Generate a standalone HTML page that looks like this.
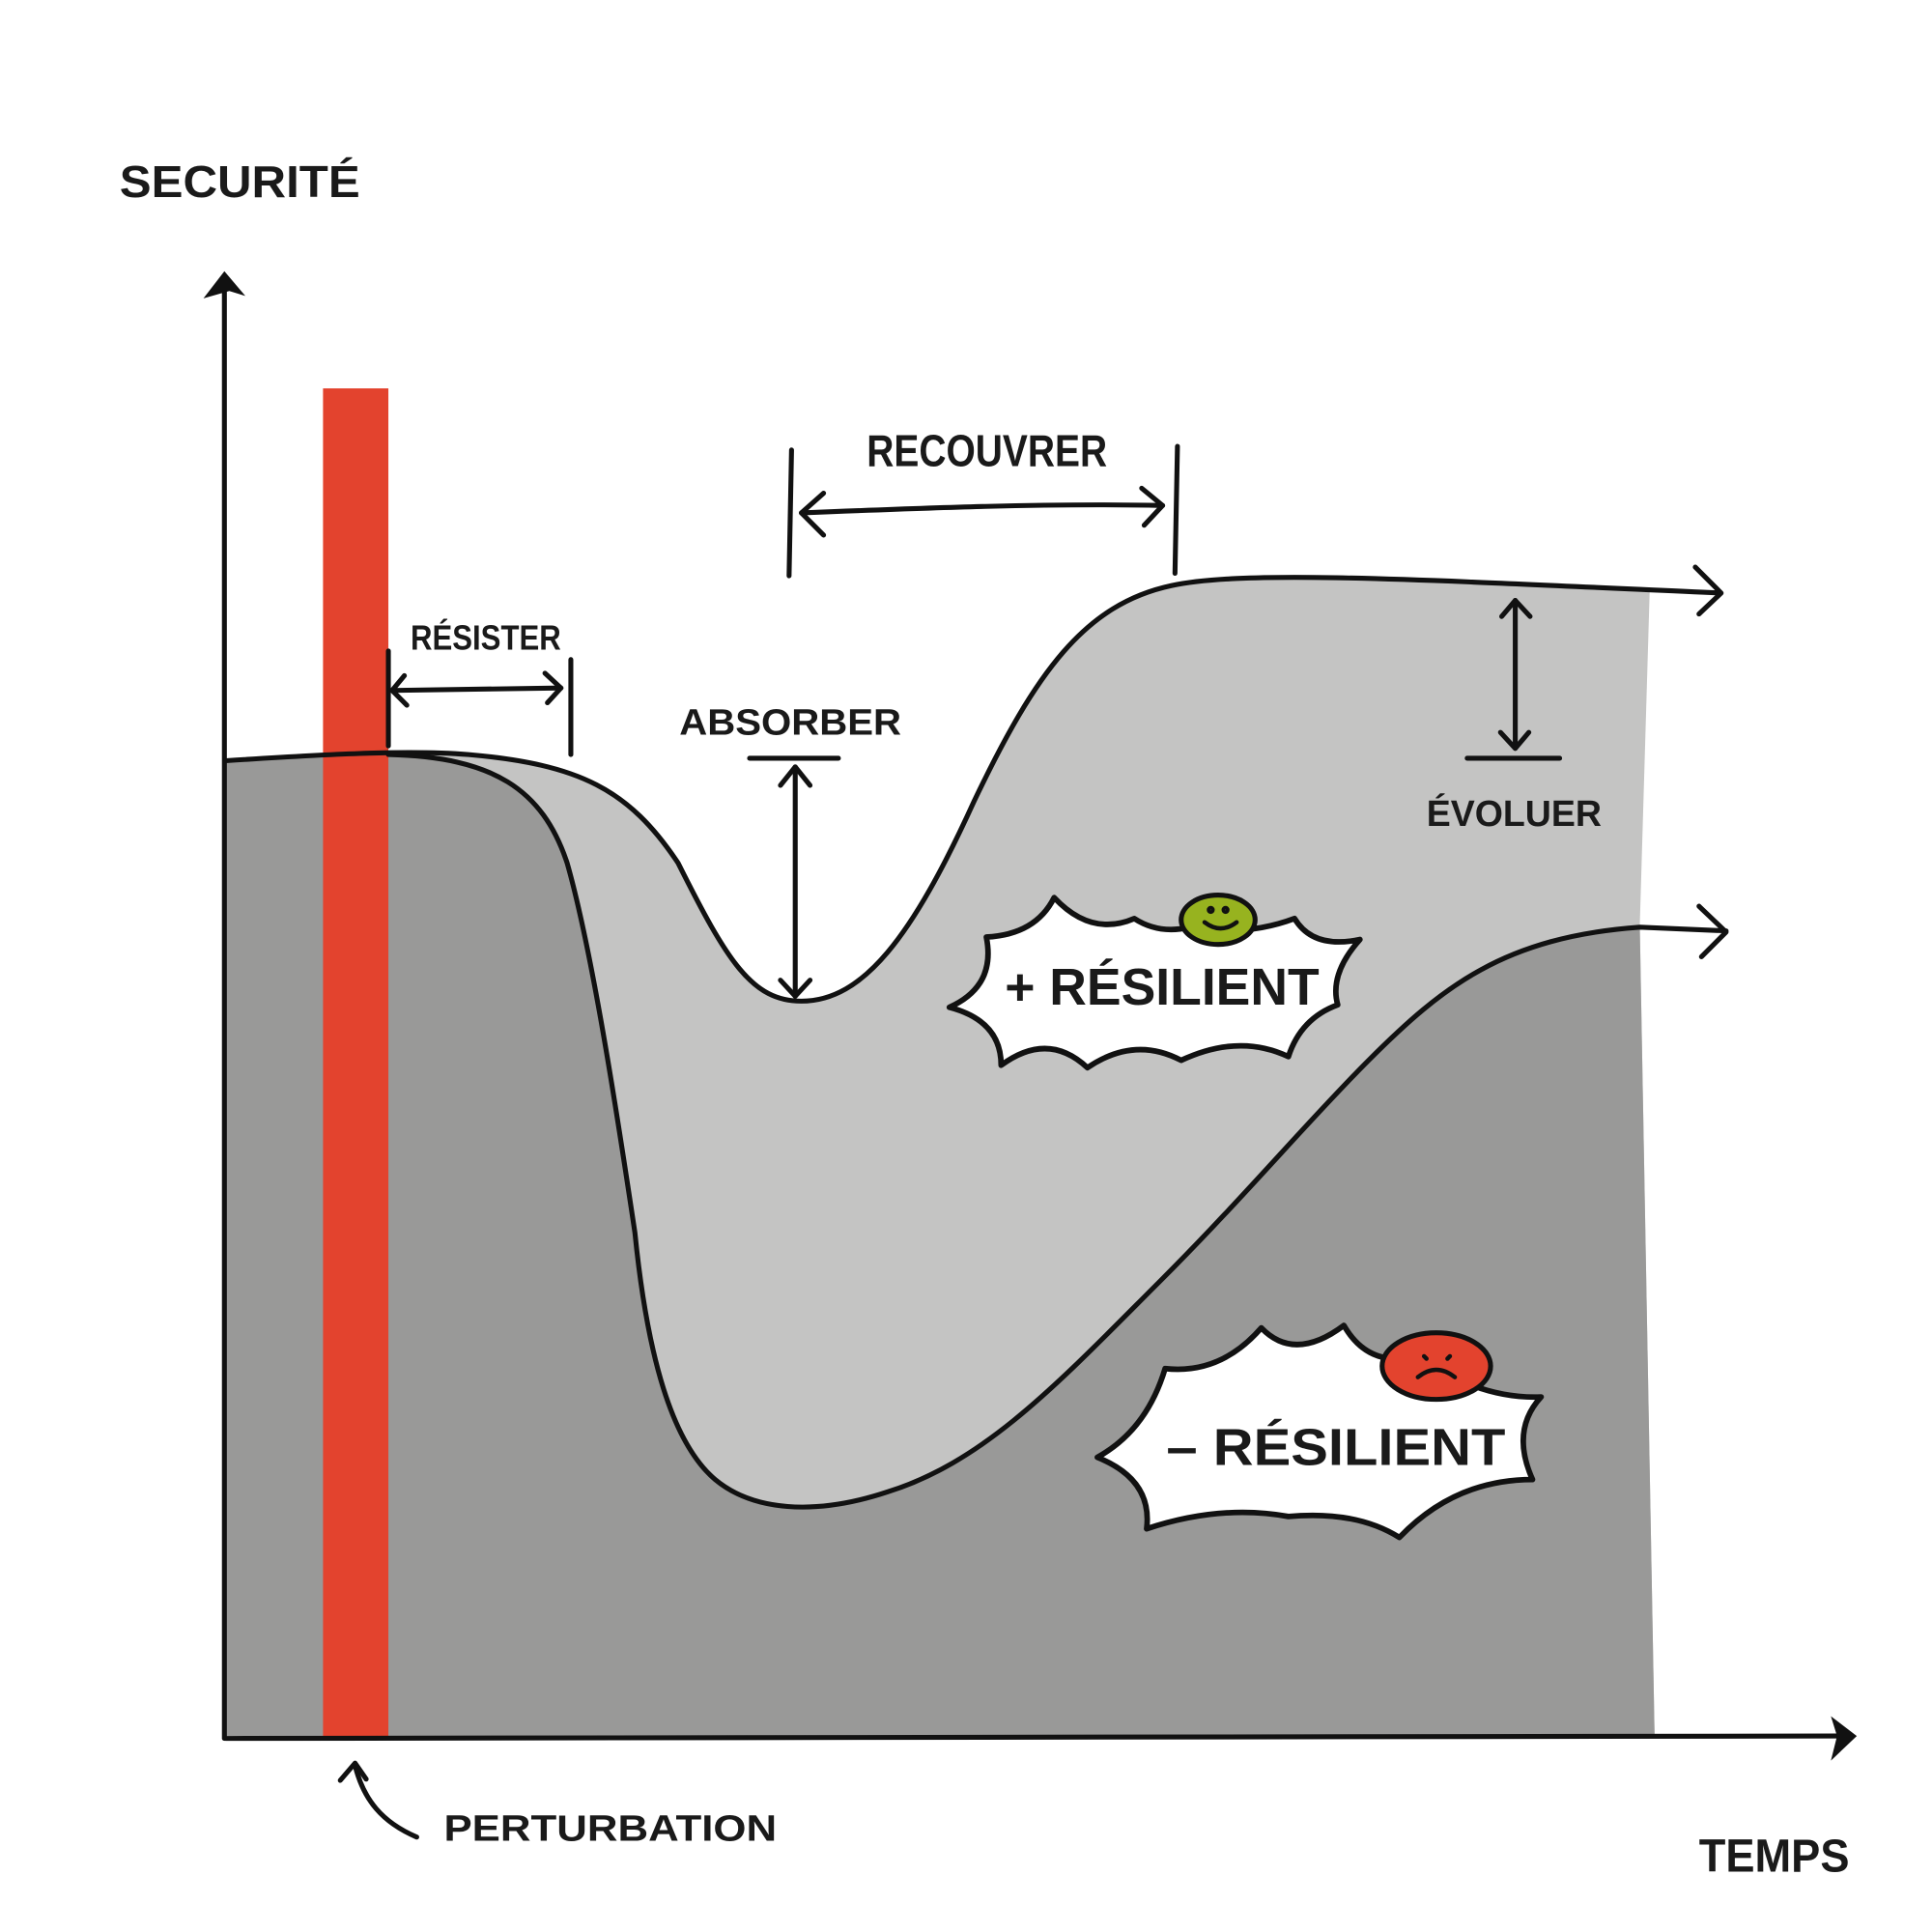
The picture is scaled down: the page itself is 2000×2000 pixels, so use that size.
<!DOCTYPE html>
<html><head><meta charset="utf-8"><style>
html,body{margin:0;padding:0;background:#fff;}
svg{display:block;}
text{font-family:"Liberation Sans",sans-serif;font-weight:bold;fill:#1a1a1a;}
</style></head><body>
<svg width="2000" height="2000" viewBox="0 0 1567 1567" xmlns="http://www.w3.org/2000/svg">
<path d="M183,617 C260,612 330,608 380,612 C470,620 510,640 550,700 C590,780 610,812 650,812 C700,812 740,760 790,650 C840,545 880,490 950,475 C1010,462 1150,470 1338,480 L1330,750 L1342,1408 L183,1408 Z" fill="#c4c4c3"/>
<path d="M183,617 L330,612 C400,614 440,640 460,700 C480,770 500,900 515,1000 C525,1100 545,1170 580,1200 C610,1225 660,1230 720,1210 C800,1185 860,1120 940,1040 C1010,970 1060,910 1110,860 C1170,800 1220,760 1330,752 L1342,1408 L183,1408 Z" fill="#999998"/>
<rect x="262" y="315" width="53" height="1095" fill="#e3432e"/>
<g fill="none" stroke="#111" stroke-width="4" stroke-linecap="round" stroke-linejoin="round">
<path d="M183,617 C260,612 330,608 380,612 C470,620 510,640 550,700 C590,780 610,812 650,812 C700,812 740,760 790,650 C840,545 880,490 950,475 C1010,462 1150,470 1395,481"/>
<path d="M315,612 C400,614 440,640 460,700 C480,770 500,900 515,1000 C525,1100 545,1170 580,1200 C610,1225 660,1230 720,1210 C800,1185 860,1120 940,1040 C1010,970 1060,910 1110,860 C1170,800 1220,760 1330,752 L1400,755"/>
<path d="M1375,460 L1396,481 L1378,498"/>
<path d="M1378,735 L1400,756 L1380,776"/>
<path d="M182,1410 L182,232"/>
<path d="M183,1410 L1495,1408"/>
<path d="M315,528 L315,605"/><path d="M463,535 L463,612"/>
<path d="M318,560 L455,558"/><path d="M328,548 L318,560 L330,572"/><path d="M442,546 L455,558 L444,570"/>
<path d="M642,365 L640,467"/><path d="M955,362 L953,465"/>
<path d="M650,416 C750,412 850,408 943,410"/><path d="M668,400 L650,416 L668,434"/><path d="M926,396 L943,410 L928,426"/>
<path d="M608,615 L680,615"/><path d="M645,622 L645,808"/><path d="M633,637 L645,622 L657,637"/><path d="M633,795 L645,808 L657,795"/>
<path d="M1190,615 L1265,615"/><path d="M1229,487 L1229,607"/><path d="M1218,500 L1229,487 L1241,500"/><path d="M1217,594 L1229,607 L1240,594"/>
<path d="M338,1490 C310,1478 295,1460 288,1432"/><path d="M276,1444 L288,1430 L297,1443"/>
</g>
<polygon points="165,242 182,220 199,240 186,236" fill="#111"/>
<polygon points="1485,1392 1506,1408 1485,1428 1490,1408" fill="#111"/>
<g stroke="#111" stroke-width="4.5" stroke-linejoin="round" fill="#fff">
<path d="M770,817 Q808,800 800,760 Q840,758 855,728 Q885,760 920,745 Q940,758 965,752 Q1010,760 1050,745 Q1065,770 1103,762 Q1078,790 1085,815 Q1055,826 1045,857 Q1005,838 958,860 Q920,840 882,866 Q850,836 812,864 Q812,828 770,817 Z"/>
<path d="M890,1182 Q930,1160 945,1110 Q990,1115 1023,1077 Q1050,1105 1090,1075 Q1110,1110 1150,1100 Q1200,1135 1250,1133 Q1225,1160 1243,1200 Q1180,1200 1135,1247 Q1100,1225 1045,1230 Q990,1220 930,1240 Q935,1200 890,1182 Z"/>
</g>
<ellipse cx="988" cy="746" rx="30" ry="20" fill="#97b31f" stroke="#111" stroke-width="4"/>
<ellipse cx="1165" cy="1108" rx="44" ry="27" fill="#e3432e" stroke="#111" stroke-width="4"/>
<g fill="none" stroke="#111" stroke-width="3.5" stroke-linecap="round">
<path d="M977,748 Q990,758 1003,748"/><circle cx="982" cy="738" r="1.5"/><circle cx="994" cy="738" r="1.5"/>
<path d="M1150,1117 Q1165,1105 1180,1117"/><path d="M1155,1100 l2,2"/><path d="M1176,1100 l-2,2"/>
</g>
<g>
<text x="97" y="160" font-size="36" textLength="195" lengthAdjust="spacingAndGlyphs">SECURITÉ</text>
<text x="333" y="527" font-size="28" textLength="122" lengthAdjust="spacingAndGlyphs">RÉSISTER</text>
<text x="703" y="378" font-size="36" textLength="195" lengthAdjust="spacingAndGlyphs">RECOUVRER</text>
<text x="551" y="596" font-size="30" textLength="180" lengthAdjust="spacingAndGlyphs">ABSORBER</text>
<text x="1157" y="670" font-size="30" textLength="142" lengthAdjust="spacingAndGlyphs">ÉVOLUER</text>
<text x="815" y="815" font-size="42" font-weight="normal" textLength="255" lengthAdjust="spacingAndGlyphs">+ RÉSILIENT</text>
<text x="946" y="1188" font-size="42" font-weight="normal" textLength="275" lengthAdjust="spacingAndGlyphs">– RÉSILIENT</text>
<text x="360" y="1493" font-size="30" textLength="270" lengthAdjust="spacingAndGlyphs">PERTURBATION</text>
<text x="1378" y="1518" font-size="38" textLength="122" lengthAdjust="spacingAndGlyphs">TEMPS</text>
</g>
</svg>
</body></html>
